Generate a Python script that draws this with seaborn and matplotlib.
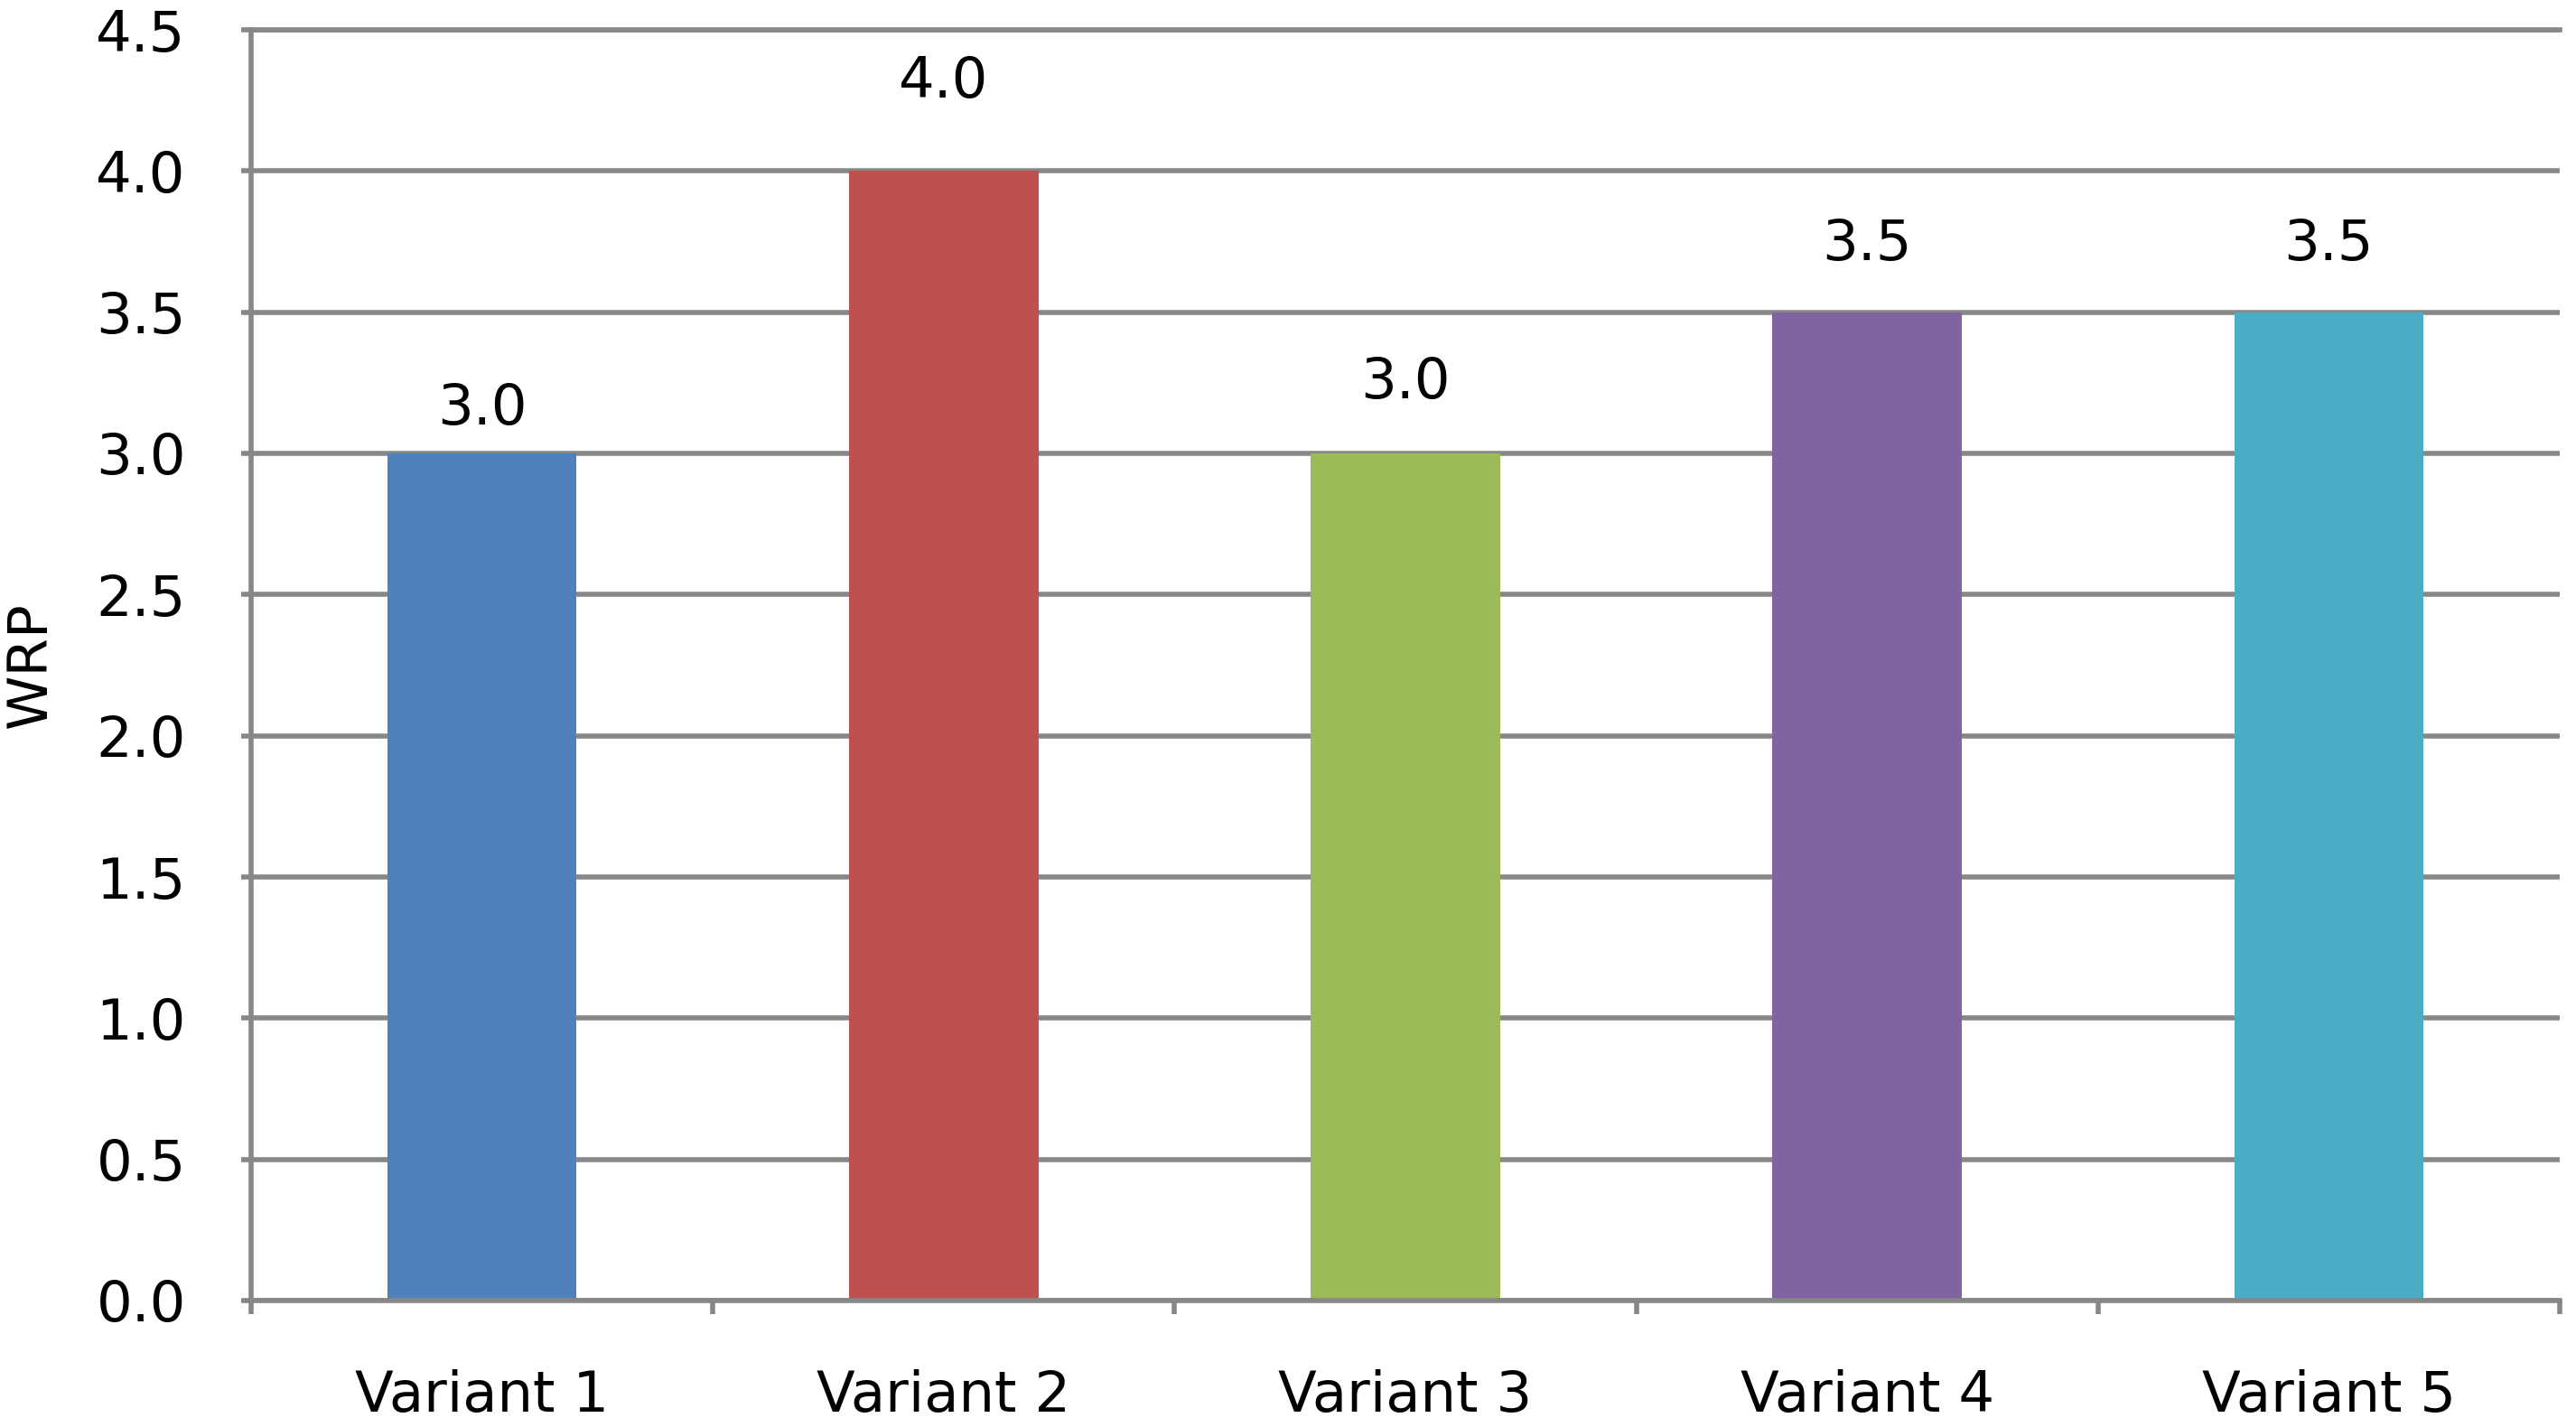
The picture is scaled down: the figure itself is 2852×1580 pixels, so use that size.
import matplotlib
matplotlib.use("Agg")
import matplotlib.pyplot as plt
import seaborn as sns
import numpy as np

categories = ["Variant 1", "Variant 2", "Variant 3", "Variant 4", "Variant 5"]
values = [3.0, 4.0, 3.0, 3.5, 3.5]
colors = ["#4F81BD", "#C0504D", "#9BBB59", "#8064A2", "#4BACC6"]
y_ticks = [0.0, 0.5, 1.0, 1.5, 2.0, 2.5, 3.0, 3.5, 4.0, 4.5]
y_label = "WRP"
# per-bar label offsets (points) – style only
label_offsets = [35, 71, 56, 54, 54]

sns.set_theme(style="white")
plt.rcParams['font.family'] = ['DejaVu Sans']

fig = plt.figure(figsize=(28.52, 15.8), dpi=100)
ax = fig.add_axes([278/2852, 1 - 1440/1580, (2834-278)/2852, (1440-33)/1580])

sns.barplot(x=categories, y=values, hue=categories, palette=colors,
            legend=False, width=0.41, saturation=1, linewidth=0, ax=ax)

grid_col = "#878787"
lw = 4.0
ax.set_ylim(0, 4.5)
ax.set_xlim(-0.5, len(categories) - 0.5)
ax.set_yticks(y_ticks)
ax.set_yticklabels([f"{t:.1f}" for t in y_ticks])
ax.yaxis.grid(True, color=grid_col, linewidth=lw)
ax.set_axisbelow(True)

for side in ["left", "bottom", "top"]:
    ax.spines[side].set_visible(True)
    ax.spines[side].set_color(grid_col)
    ax.spines[side].set_linewidth(lw)
ax.spines["right"].set_visible(False)

# category boundary ticks on x
ax.set_xticks(np.arange(len(categories)))
ax.set_xticklabels(categories)
ax.set_xticks(np.arange(len(categories) + 1) - 0.5, minor=True)
ax.tick_params(axis="x", which="major", length=0, pad=55, labelsize=45, labelcolor="black")
ax.tick_params(axis="x", which="minor", length=11, width=lw, color=grid_col, bottom=True)
ax.tick_params(axis="y", which="major", length=8, width=lw, color=grid_col, left=True,
               pad=44, labelsize=45, labelcolor="black")

ax.set_xlabel("")
ax.set_ylabel(y_label, fontsize=44, color="black")
ax.yaxis.set_label_coords(-0.0837, 0.5)

for i, (v, off) in enumerate(zip(values, label_offsets)):
    ax.annotate(f"{v:.1f}", xy=(i, v), xytext=(0, off), textcoords="offset points",
                ha="center", va="center", fontsize=45, color="black", annotation_clip=False)

fig.savefig("out.png", dpi=100, facecolor="white")
